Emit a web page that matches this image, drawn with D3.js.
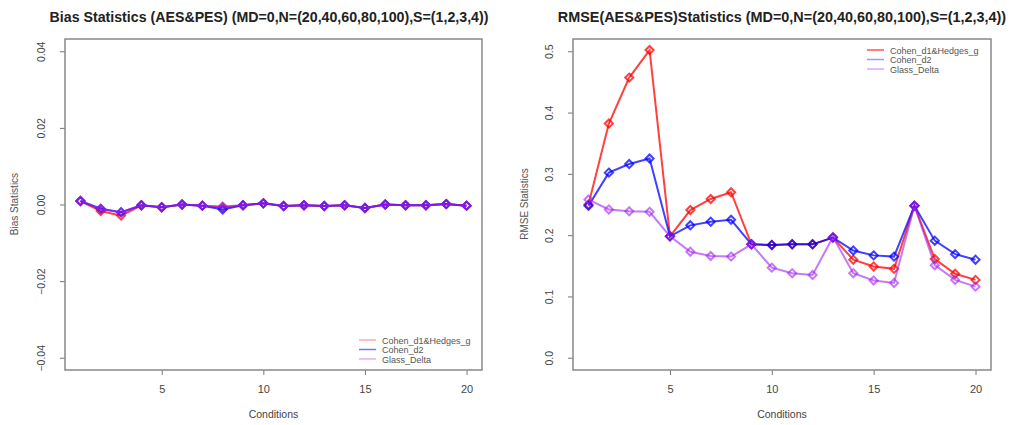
<!DOCTYPE html>
<html>
<head>
<meta charset="utf-8">
<script src="https://cdn.jsdelivr.net/npm/d3@7"></script>
<style>
  body { margin: 0; background: #fff; }
  svg { font-family: "Liberation Sans", Arial, sans-serif; }
</style>
</head>
<body>
<div id="chart-area"></div>
<script>
// conditions 1..20
const conditions = d3.range(1, 21)
const seriesNames = ["Cohen_d1&Hedges_g", "Cohen_d2", "Glass_Delta"]

// Bias panel values
const biasD1 = [0.0009, -0.0017, -0.0029, -0.0002, -0.0007, 0.0000, -0.0003, -0.0007, -0.0002, 0.0003,
                -0.0004, -0.0002, -0.0004, -0.0002, -0.0009, 0.0000, -0.0002, -0.0002, 0.0001, -0.0003]
const biasD2 = [0.0009, -0.0011, -0.0020, -0.0002, -0.0007, 0.0000, -0.0003, -0.0013, -0.0002, 0.0003,
                -0.0004, -0.0002, -0.0004, -0.0002, -0.0009, 0.0000, -0.0002, -0.0002, 0.0001, -0.0003]
const biasGD = [0.0009, -0.0012, -0.0021, -0.0002, -0.0007, 0.0000, -0.0003, -0.0005, -0.0002, 0.0003,
                -0.0004, -0.0002, -0.0004, -0.0002, -0.0009, 0.0000, -0.0002, -0.0002, 0.0001, -0.0003]

// RMSE panel values
const rmseD1 = [0.250, 0.382, 0.457, 0.502, 0.198, 0.241, 0.259, 0.270, 0.185, 0.184,
                0.185, 0.185, 0.196, 0.160, 0.149, 0.145, 0.248, 0.161, 0.137, 0.127]
const rmseD2 = [0.248, 0.302, 0.316, 0.325, 0.198, 0.216, 0.222, 0.225, 0.185, 0.184,
                0.185, 0.185, 0.196, 0.175, 0.167, 0.165, 0.248, 0.191, 0.169, 0.160]
const rmseGD = [0.258, 0.242, 0.239, 0.238, 0.198, 0.173, 0.166, 0.165, 0.185, 0.147,
                0.138, 0.135, 0.197, 0.138, 0.126, 0.122, 0.248, 0.151, 0.127, 0.116]

const xTicks = [5, 10, 15, 20]
const biasTicks = [-0.04, -0.02, 0.00, 0.02, 0.04]
const rmseTicks = [0.0, 0.1, 0.2, 0.3, 0.4, 0.5]

const colors = ["rgba(255,0,0,0.75)", "rgba(0,0,255,0.75)", "rgba(160,32,240,0.6)"]

const svg = d3.select("#chart-area").append("svg")
    .attr("width", 1013)
    .attr("height", 425)

function drawPanel(p) {
    const g = svg.append("g")

    const x = d3.scaleLinear().domain([0.24, 20.76]).range([p.left, p.right])
    const y = d3.scaleLinear().domain(p.yDomain).range([370, 39])

    // title
    g.append("text")
        .attr("x", p.titleX)
        .attr("y", 22)
        .attr("text-anchor", "middle")
        .attr("font-size", p.titleSize)
        .attr("font-weight", "bold")
        .attr("fill", "#222")
        .text(p.title)

    // x axis
    const xAxis = g.append("g")
        .attr("transform", "translate(0,370)")
        .call(d3.axisBottom(x).tickValues(xTicks).tickSize(5).tickPadding(10).tickFormat(d3.format("d")))
    xAxis.select(".domain").remove()
    xAxis.selectAll("line").attr("stroke", "#777")
    xAxis.selectAll("text").attr("font-size", "11px").attr("fill", "#444")
        .attr("font-family", "Liberation Sans, Arial, sans-serif")

    // y axis
    const yAxis = g.append("g")
        .attr("transform", `translate(${p.left},0)`)
        .call(d3.axisLeft(y).tickValues(p.yTicks).tickSize(5).tickFormat(p.fmt))
    yAxis.select(".domain").remove()
    yAxis.selectAll("line").attr("stroke", "#777")
    yAxis.selectAll("text")
        .attr("font-size", "10.5px").attr("fill", "#444")
        .attr("font-family", "Liberation Sans, Arial, sans-serif")
        .attr("text-anchor", "middle")
        .attr("x", null).attr("dy", null)
        .attr("transform", `translate(-20,0) rotate(-90)`)
        .attr("y", 0)

    // box
    g.append("rect")
        .attr("x", p.left).attr("y", 39)
        .attr("width", p.right - p.left).attr("height", 331)
        .attr("fill", "none").attr("stroke", "#888").attr("stroke-width", 1.5)

    // axis labels
    g.append("text")
        .attr("x", (p.left + p.right) / 2)
        .attr("y", 418)
        .attr("text-anchor", "middle")
        .attr("font-size", "10.5px")
        .attr("fill", "#444")
        .text("Conditions")
    g.append("text")
        .attr("transform", `translate(${p.yLabelX},204) rotate(-90)`)
        .attr("text-anchor", "middle")
        .attr("font-size", "10px")
        .attr("fill", "#555")
        .text(p.yLabel)

    const line = d3.line()
        .x((d, i) => x(conditions[i]))
        .y(d => y(d))

    const diamond = d3.symbol().type(d3.symbolDiamond2).size(42)

    p.series.forEach((s, k) => {
        g.append("path")
            .attr("d", line(s))
            .attr("fill", "none")
            .attr("stroke", colors[k])
            .attr("stroke-width", 2)
        g.selectAll(null)
            .data(s)
            .enter().append("path")
            .attr("d", diamond)
            .attr("transform", (d, i) => `translate(${x(conditions[i])},${y(d)})`)
            .attr("fill", "none")
            .attr("stroke", colors[k])
            .attr("stroke-width", 2)
    })

    // legend
    const lg = g.append("g").attr("transform", `translate(${p.legX},${p.legY})`)
    seriesNames.forEach((n, k) => {
        lg.append("line")
            .attr("x1", 0).attr("x2", 17)
            .attr("y1", k * 9.5).attr("y2", k * 9.5)
            .attr("stroke", p.legColors[k]).attr("stroke-width", 1.5)
        lg.append("text")
            .attr("x", 23).attr("y", k * 9.5 + 3.5)
            .attr("font-size", "9px")
            .attr("fill", "#555")
            .text(n)
    })
}

drawPanel({
    left: 65, right: 482, titleX: 269, titleSize: "14.2px",
    title: "Bias Statistics (AES&PES) (MD=0,N=(20,40,60,80,100),S=(1,2,3,4))",
    yDomain: [-0.0432, 0.0432], yTicks: biasTicks, fmt: d3.format(".2f"),
    yLabel: "Bias Statistics", yLabelX: 18,
    series: [biasD1, biasD2, biasGD],
    legX: 359, legY: 340,
    legColors: ["#ffaaaa", "#7777ff", "#e0b0ff"]
})

drawPanel({
    left: 573, right: 991, titleX: 782, titleSize: "14.4px",
    title: "RMSE(AES&PES)Statistics (MD=0,N=(20,40,60,80,100),S=(1,2,3,4))",
    yDomain: [-0.02, 0.52], yTicks: rmseTicks, fmt: d3.format(".1f"),
    yLabel: "RMSE Statistics", yLabelX: 528,
    series: [rmseD1, rmseD2, rmseGD],
    legX: 867, legY: 50,
    legColors: ["#ff5555", "#9999ff", "#d8a8ff"]
})
</script>
</body>
</html>
